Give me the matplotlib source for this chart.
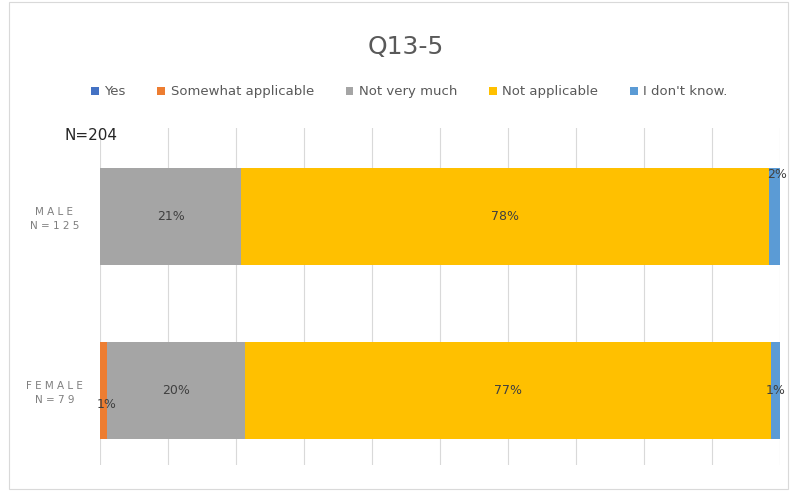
import matplotlib.pyplot as plt
from matplotlib.patches import Rectangle

groups = ['M A L E\nN = 1 2 5', 'F E M A L E\nN = 7 9']
series = ['Yes', 'Somewhat applicable', 'Not very much', 'Not applicable', "I don't know."]
colors = ['#4472C4', '#ED7D31', '#A5A5A5', '#FFC000', '#5B9BD5']
male = [0, 0, 20.8, 77.6, 1.6]
female = [0, 1.0, 20.3, 77.4, 1.3]
data = [male, female]

fig = plt.figure(figsize=[7.9, 4.94], dpi=100)
fig.patches.append(Rectangle((0.012, 0.01), 0.985, 0.985, transform=fig.transFigure,
                             fill=False, edgecolor='#D9D9D9', linewidth=0.8))
ax = fig.add_axes([0.1266, 0.0587, 0.8604, 0.6823])

ypos = [0, 1]
left = [0, 0]
for i, name in enumerate(series):
    vals = [d[i] for d in data]
    ax.barh(ypos, vals, left=left, height=0.557, color=colors[i], label=name, zorder=2)
    left = [l + v for l, v in zip(left, vals)]

# data labels
for g, d in enumerate(data):
    start = 0
    for i, v in enumerate(d):
        if v > 0:
            txt = '%d%%' % round(v)
            if v > 5:
                ax.text(start + v / 2, ypos[g], txt, ha='center', va='center', fontsize=9, color='#404040')
            elif i == 4 and g == 0:
                ax.text(start + v / 2 + 0.4, ypos[g] - 0.24, txt, ha='center', va='center', fontsize=9, color='#404040')
            elif i == 4:
                ax.text(start + v / 2, ypos[g], txt, ha='center', va='center', fontsize=9, color='#404040')
            else:
                ax.text(start + v / 2 + 0.5, ypos[g] + 0.08, txt, ha='center', va='center', fontsize=9, color='#404040')
        start += v

ax.set_xlim(0, 100)
ax.set_ylim(1.43, -0.506)
ax.set_xticks(range(0, 101, 10))
ax.set_xticklabels([])
ax.tick_params(axis='x', length=0)
ax.set_yticks(ypos)
ax.set_yticklabels(groups, fontsize=7.5, color='#7F7F7F', linespacing=1.5)
ax.tick_params(axis='y', length=0, pad=6)
for t in ax.get_yticklabels():
    t.set_horizontalalignment('center')
    t.set_x(-0.055)
ax.grid(axis='x', color='#D9D9D9', linewidth=0.8, zorder=0)
for s in ax.spines.values():
    s.set_visible(False)

fig.text(0.513, 0.905, 'Q13-5', ha='center', va='center', fontsize=18, color='#595959', fontweight='medium')
fig.text(0.082, 0.726, 'N=204', ha='left', va='center', fontsize=11, color='#262626')
fig.legend(loc='center', bbox_to_anchor=(0.518, 0.814), ncol=5, frameon=False, fontsize=9.5,
           handlelength=0.6, handleheight=0.6, handletextpad=0.4, columnspacing=2.4,
           labelcolor='#595959')

plt.savefig('out.png')
